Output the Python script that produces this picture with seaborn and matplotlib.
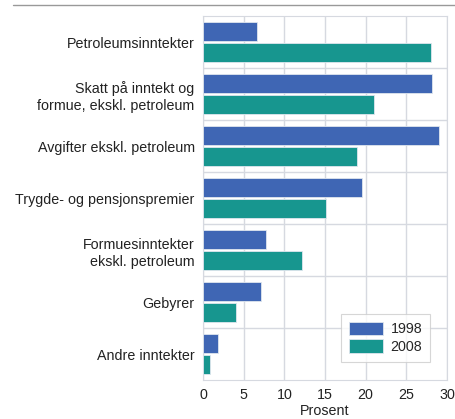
import numpy as np
import pandas as pd
import matplotlib
matplotlib.use("Agg")
import matplotlib.pyplot as plt
import seaborn as sns
from matplotlib.lines import Line2D

categories = [
    "Petroleumsinntekter",
    "Skatt på inntekt og\nformue, ekskl. petroleum",
    "Avgifter ekskl. petroleum",
    "Trygde- og pensjonspremier",
    "Formuesinntekter\nekskl. petroleum",
    "Gebyrer",
    "Andre inntekter",
]
values_1998 = [6.6, 28.2, 29.0, 19.5, 7.8, 7.1, 1.8]
values_2008 = [28.0, 21.0, 18.9, 15.1, 12.2, 4.1, 0.8]
years = ["1998", "2008"]
colors = ["#3F66B4", "#17968F"]

df = pd.DataFrame({
    "Kategori": categories * 2,
    "Prosent": values_1998 + values_2008,
    "År": [years[0]] * len(categories) + [years[1]] * len(categories),
})

sns.set_style("white")
plt.rcParams["font.family"] = ["Liberation Sans", "DejaVu Sans"]
fs = 10.3

fig, ax = plt.subplots(figsize=(4.55, 4.19), dpi=100)
fig.subplots_adjust(left=203/455, right=447/455, top=1-16/419, bottom=1-380/419)

sns.barplot(data=df, x="Prosent", y="Kategori", hue="År", palette=colors,
            width=0.8, gap=0.08, edgecolor="#dfe6ee", linewidth=0.6,
            saturation=1, ax=ax, zorder=3)

ax.set_xlim(0, 30)
ax.set_ylim(len(categories) - 0.5, -0.5)
ax.set_xticks(np.arange(0, 31, 5))
ax.set_yticks(np.arange(len(categories)))
ax.set_yticklabels(categories, fontsize=fs, color="#222222", linespacing=1.3)
ax.set_yticks(np.arange(len(categories) - 1) + 0.5, minor=True)
ax.tick_params(axis="x", labelsize=fs, colors="#222222", length=0, pad=6)
ax.tick_params(axis="y", which="both", length=0, pad=6)
ax.grid(True, axis="x", color="#d6d9e0", linewidth=1, zorder=0)
ax.grid(True, axis="y", which="minor", color="#d6d9e0", linewidth=1, zorder=0)
ax.grid(False, axis="y", which="major")
for s in ax.spines.values():
    s.set_color("#d6d9e0")
ax.set_xlabel("Prosent", fontsize=fs, color="#222222", labelpad=1)
ax.set_ylabel("")

leg = ax.legend(loc="lower right", bbox_to_anchor=(0.93, 0.05), fontsize=fs,
                frameon=True, fancybox=False, handlelength=2.4, handleheight=1.1,
                borderpad=0.55, labelspacing=0.2, handletextpad=0.5,
                borderaxespad=0)
leg.get_frame().set_edgecolor("#cccccc")
leg.get_frame().set_linewidth(0.8)

fig.add_artist(Line2D([13/455, 1], [1 - 5/419, 1 - 5/419],
                      transform=fig.transFigure, color="#999999", linewidth=1))

fig.savefig("out.png", dpi=100)
